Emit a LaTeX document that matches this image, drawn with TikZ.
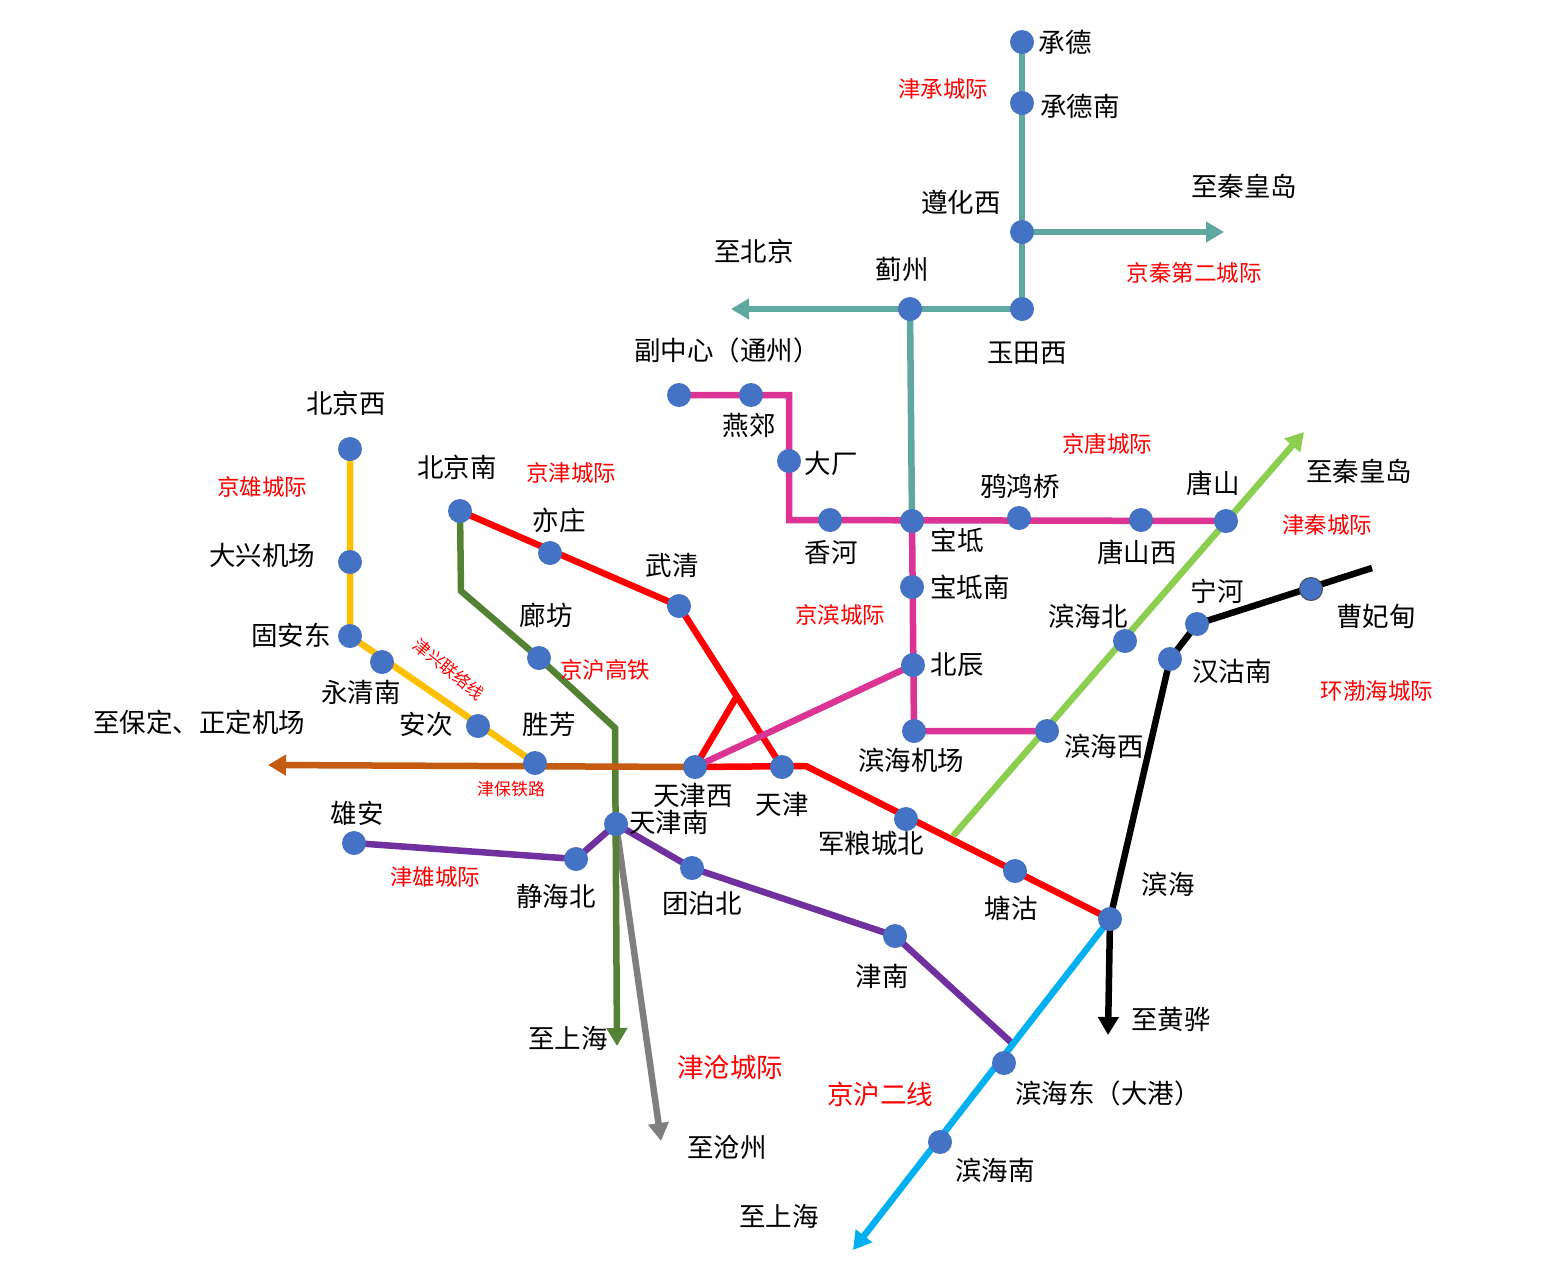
\documentclass[tikz,border=0pt]{standalone}
\usepackage{fontspec}
\setmainfont{Noto Sans CJK SC}
\usetikzlibrary{arrows.meta,backgrounds}
\definecolor{stnblue}{HTML}{4472C4}
\definecolor{teal1}{HTML}{5FA8A0}
\definecolor{mag1}{HTML}{DB3494}
\definecolor{green1}{HTML}{548235}
\definecolor{brown1}{HTML}{C55A11}
\definecolor{yellow1}{HTML}{FFC000}
\definecolor{purple1}{HTML}{7030A0}
\definecolor{gray1}{HTML}{7F7F7F}
\definecolor{lime1}{HTML}{8CCF50}
\definecolor{cyan1}{HTML}{00B0F0}
\tikzset{
  stn/.style={circle,fill=stnblue,inner sep=0pt,minimum size=24pt},
  lab/.style={font=\fontsize{26.5}{26.5}\selectfont,text=black,inner sep=0pt},
  red lab/.style={font=\fontsize{22.5}{22.5}\selectfont,text=red,inner sep=0pt},
  big red/.style={font=\fontsize{26.5}{26.5}\selectfont,text=red,inner sep=0pt},
  small red/.style={font=\fontsize{17}{17}\selectfont,text=red,inner sep=0pt},
  ln/.style={line width=6.5pt,line join=miter},
  arr/.style={ln,-{Triangle[length=18pt,width=20pt]}}
}
\begin{document}
\begin{tikzpicture}[x=1pt,y=-1pt]
\useasboundingbox (0,0) rectangle (1544,1286);
% stations
\foreach \n/\x/\y in {chengde/1022/42,chengden/1022/103,zunhuaw/1022/232,yutianw/1022/309,jizhou/910/309,
 baodi/912/521,yahong/1019/518,tangshanw/1141/520,tangshan/1226/521,baodin/912/587,beichen/913/665,
 bhairport/914/731,bhwest/1047/731,bhbei/1125/641,ninghe/1197/624,hangu/1170/659,binhai/1110/919,
 tanggu/1015/871,junliang/906/819,tianjin/782/767,tjw/695/767,wuqing/679/606,yizhuang/550/553,bjs/460/511,
 langfang/539/658,shengfang/535/763,anci/478/726,yongqingn/382/662,guan/350/636,daxing/350/562,bjw/350/449,
 xiongan/354/843,jinghaibei/576/859,tjs/616/824,tuanbo/692/868,jinnan/895/936,bhd/1004/1063,bhn/940/1142,
 tongzhou/679/395,yanjiao/751/395,dachang/789/461,xianghe/830/520}
 {\node[stn] (\n) at (\x,\y) {};}
\node[stn,draw=black!70,line width=1pt,minimum size=23pt] (caofei) at (1311,589) {};
% free ends and bends
\coordinate (tobj) at (731,309);
\coordinate (toqhd) at (1224,232);
\coordinate (magA) at (789,395);
\coordinate (magB) at (789,520);
\coordinate (tri) at (737,696);
\coordinate (redB) at (806,766);
\coordinate (grA) at (461,591);
\coordinate (grB) at (615,728);
\coordinate (toshA) at (617,1046);
\coordinate (tobd) at (268,765);
\coordinate (purE) at (1014,1045);
\coordinate (tocz) at (661,1141);
\coordinate (limeS) at (953,836);
\coordinate (limeE) at (1304,432);
\coordinate (blkS) at (1372,568);
\coordinate (tohh) at (1108,1035);
\coordinate (toshB) at (853,1250);
% connectors
\begin{scope}[on background layer]
\draw[arr,gray1] (tjs.center) -- (tocz);
\draw[ln,teal1] (chengde.center) -- (yutianw.center) -- (jizhou.center);
\draw[arr,teal1] (jizhou.center) -- (tobj);
\draw[arr,teal1] (zunhuaw.center) -- (toqhd);
\draw[ln,teal1] (jizhou.center) -- (baodi.center);
\draw[arr,green1] (bjs.center) -- (grA) -- (langfang.center) -- (grB) -- (toshA);
\draw[arr,brown1] (tjw.center) -- (tobd);
\draw[ln,yellow1] (bjw.center) -- (guan.center) -- (shengfang.center);
\draw[ln,red] (bjs.center) -- (wuqing.center) -- (tianjin.center);
\draw[ln,red] (tri) -- (tjw.center) -- (redB) -- (binhai.center);
\draw[arr,lime1] (limeS) -- (limeE);
\draw[ln,mag1] (tongzhou.center) -- (magA) -- (magB) -- (tangshan.center);
\draw[ln,mag1] (baodi.center) -- (bhairport.center) -- (bhwest.center);
\draw[ln,mag1] (beichen.center) -- (tjw.center);
\draw[ln,purple1] (xiongan.center) -- (jinghaibei.center) -- (tjs.center) -- (tuanbo.center) -- (jinnan.center) -- (purE);
\draw[arr,cyan1] (binhai.center) -- (toshB);
\draw[ln,black] (blkS) -- (ninghe.center) -- (hangu.center) -- (binhai.center);
\draw[arr,black] (binhai.center) -- (tohh);
\end{scope}
% black labels
\foreach \n/\x/\y/\t in {a1/1065/42/承德,a2/1080/106/承德南,a3/961/202/遵化西,a4/1244/186/至秦皇岛,a5/754/251/至北京,
 a6/902/269/蓟州,a7/1027/353/玉田西,a8/727/350/副中心（通州）,a9/749/425/燕郊,a10/831/463/大厂,a11/1020/486/鸦鸿桥,
 a12/1213/483/唐山,a13/1359/471/至秦皇岛,a14/957/540/宝坻,a15/831/553/香河,a16/1137/552/唐山西,a17/970/587/宝坻南,
 a18/1088/616/滨海北,a19/1217/591/宁河,a20/1376/616/曹妃甸,a21/957/665/北辰,a22/1232/671/汉沽南,a23/911/760/滨海机场,
 a24/1104/746/滨海西,a25/1168/884/滨海,a26/871/843/军粮城北,a27/1011/908/塘沽,a28/882/976/津南,a29/702/903/团泊北,
 a30/669/822/天津南,a31/693/795/天津西,a32/782/804/天津,a33/549/724/胜芳,a34/426/724/安次,a35/361/692/永清南,
 a36/291/635/固安东,a37/199/722/至保定、正定机场,a38/357/813/雄安,a39/556/896/静海北,a40/546/615/廊坊,a41/672/565/武清,
 a42/559/520/亦庄,a43/457/467/北京南,a44/346/403/北京西,a45/262/555/大兴机场,a46/568/1038/至上海,a47/727/1147/至沧州,
 a48/1108/1093/滨海东（大港）,a49/995/1170/滨海南,a50/779/1216/至上海,a51/1171/1019/至黄骅}
 {\node[lab] (\n) at (\x,\y) {\t};}
% red labels
\foreach \n/\x/\y/\t in {r1/943/89/津承城际,r2/1194/273/京秦第二城际,r3/1107/444/京唐城际,r4/1327/525/津秦城际,
 r5/840/615/京滨城际,r6/1377/691/环渤海城际,r7/435/877/津雄城际,r8/605/670/京沪高铁,r9/571/473/京津城际,r10/262/487/京雄城际}
 {\node[red lab] (\n) at (\x,\y) {\t};}
\node[big red] (r11) at (730,1067) {津沧城际};
\node[big red] (r12) at (880,1094) {京沪二线};
\node[small red] (r13) at (511,789) {津保铁路};
\node[small red,rotate=-39] (r14) at (449,669) {津兴联络线};
\end{tikzpicture}
\end{document}
